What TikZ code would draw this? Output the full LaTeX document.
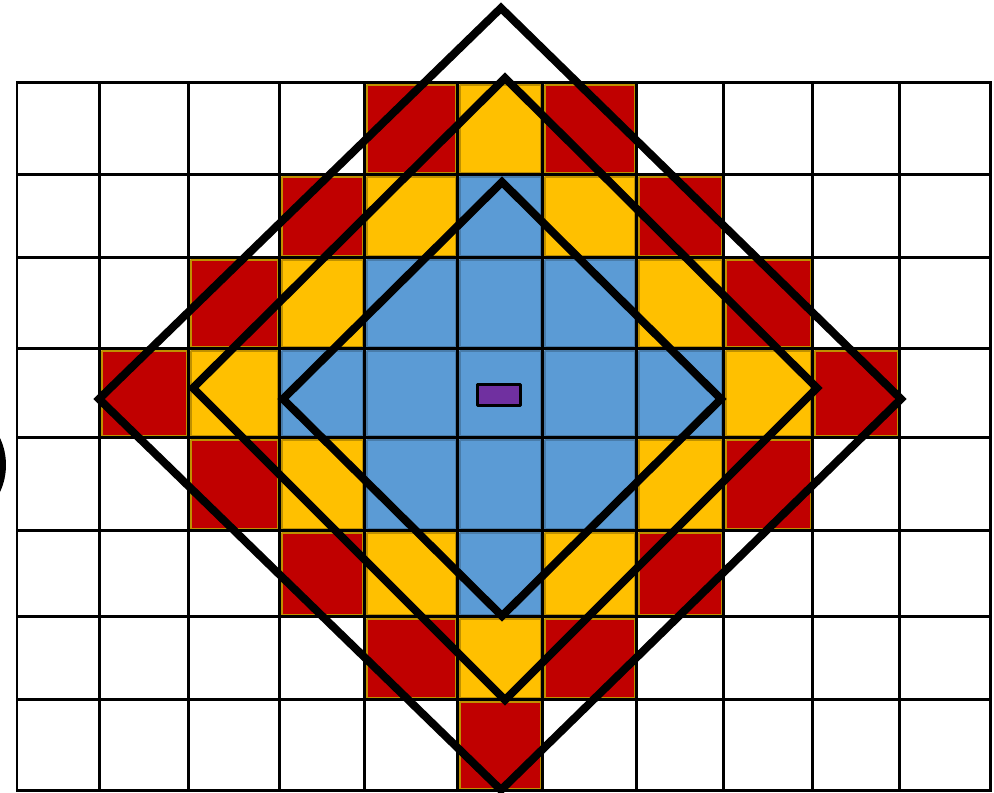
\documentclass[tikz,border=0pt]{standalone}
\usepackage{tikz}

\definecolor{cellred}{HTML}{C00000}
\definecolor{cellyellow}{HTML}{FFC000}
\definecolor{cellblue}{HTML}{5B9BD5}
\definecolor{cellpurple}{HTML}{7030A0}
\definecolor{celledge}{HTML}{BF9000}

\def\gx{{17,99,188,279,364,457,542,636,723,812,899,990}}
\def\gy{{82,174,257,348,437,530,616,699,790}}

\begin{document}
\begin{tikzpicture}[x=0.1mm,y=-0.1mm,line cap=round,line join=round]
\useasboundingbox (0,0) rectangle (994,793);
% coloured cells by distance from the centre cell
\foreach \c in {0,...,10} {
  \foreach \r in {0,...,7} {
    \pgfmathtruncatemacro\d{abs(\c-5)+abs(\r-3)}
    \pgfmathsetmacro\xa{\gx[\c]+3}
    \pgfmathsetmacro\xb{\gx[\c+1]-1}
    \pgfmathsetmacro\ya{\gy[\r]+3}
    \pgfmathsetmacro\yb{\gy[\r+1]-1}
    \ifnum\d<3
      \filldraw[fill=cellblue,draw=cellblue!80!black,line width=0.2mm] (\xa,\ya) rectangle (\xb,\yb);
    \else\ifnum\d=3
      \filldraw[fill=cellyellow,draw=celledge,line width=0.2mm] (\xa,\ya) rectangle (\xb,\yb);
    \else\ifnum\d=4
      \filldraw[fill=cellred,draw=celledge,line width=0.2mm] (\xa,\ya) rectangle (\xb,\yb);
    \fi\fi\fi
  }
}
% grid
\foreach \i in {0,...,11} {
  \pgfmathsetmacro\xx{\gx[\i]}
  \draw[line width=0.3mm,line cap=rect] (\xx,82) -- (\xx,790);
}
\foreach \j in {0,...,8} {
  \pgfmathsetmacro\yy{\gy[\j]}
  \draw[line width=0.3mm,line cap=rect] (17,\yy) -- (990,\yy);
}
% diamonds
\coordinate (oT) at (501,8);
\coordinate (oR) at (901,399);
\coordinate (oB) at (501,790);
\coordinate (oL) at (99,399);
\coordinate (mT) at (505,78);
\coordinate (mR) at (817,388);
\coordinate (mB) at (505,700);
\coordinate (mL) at (193,388);
\coordinate (iT) at (502,182);
\coordinate (iR) at (721,399);
\coordinate (iB) at (502,616);
\coordinate (iL) at (283,399);
\draw[line width=0.8mm,line cap=butt,line join=miter] (oT) -- (oR) -- (oB) -- (oL) -- cycle;
\draw[line width=0.8mm,line cap=butt,line join=miter] (mT) -- (mR) -- (mB) -- (mL) -- cycle;
\draw[line width=0.8mm,line cap=butt,line join=miter] (iT) -- (iR) -- (iB) -- (iL) -- cycle;
% centre marker
\filldraw[fill=cellpurple,draw=black,line width=0.3mm] (477,384) rectangle (520,405);
% clipped bracket at the left edge
\fill (0,438) .. controls (8,455) and (8,475) .. (0,492) -- cycle;
\end{tikzpicture}
\end{document}
